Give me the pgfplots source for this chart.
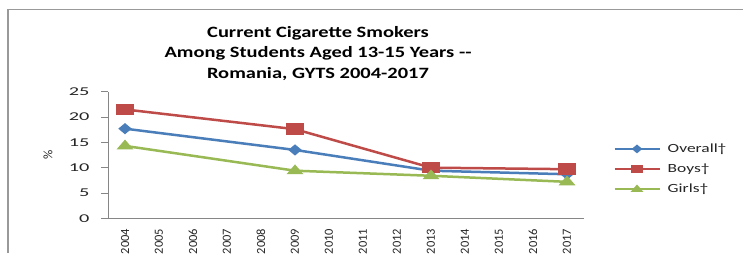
\documentclass[border=0pt]{standalone}
\usepackage{fontspec}
\setmainfont{Carlito}
\newfontfamily\titlefont[FakeStretch=1.3]{Carlito}
\newfontfamily\yfont[FakeStretch=1.7]{Carlito}
\newfontfamily\legfont[FakeStretch=1.4]{Carlito}
\usepackage{pgfplots}
\pgfplotsset{compat=1.18}
\definecolor{cblue}{HTML}{4A7EBB}
\definecolor{cred}{HTML}{BE4B48}
\definecolor{cgreen}{HTML}{98B954}
\definecolor{axgray}{HTML}{868686}
\definecolor{txt}{HTML}{262626}
\begin{document}
\begin{tikzpicture}[x=1bp,y=1bp]
\useasboundingbox (0,0) rectangle (743,-253);
\fill[white] (0,0) rectangle (743,-253);
\draw[gray!80, line width=1.6bp] (8,-253) -- (8,-9.5) -- (743,-9.5);
\node[font=\titlefont\bfseries\fontsize{15.8}{20.5}\selectfont, align=center, anchor=north, text=black, inner sep=0pt] at (318,-26) {Current Cigarette Smokers\\Among Students Aged 13-15 Years --\\Romania, GYTS 2004-2017};
\begin{axis}[
  at={(108bp,-218.3bp)}, anchor=south west,
  scale only axis, width=476bp, height=126.6bp,
  xmin=2003.5, xmax=2017.5, ymin=0, ymax=25,
  axis x line=bottom, axis y line=left,
  axis line style={axgray, line width=1bp, -},
  tick align=outside,
  major tick length=7bp, minor tick length=4bp,
  every tick/.style={axgray, line width=0.8bp},
  ytick={0,5,...,25},
  yticklabels={0,5,10,15,20,25},
  xtick={2004,...,2017},
  xticklabels={2004,2005,2006,2007,2008,2009,2010,2011,2012,2013,2014,2015,2016,2017},
  minor xtick={2003.5,2004.5,...,2017.5},
  x tick style={draw=none},
  minor x tick style={axgray, line width=0.8bp},
  yticklabel style={font=\yfont\fontsize{12}{14}\selectfont, text=txt, xshift=-8bp},
  xticklabel style={font=\fontsize{12.5}{14}\selectfont, text=txt, rotate=90, anchor=east},
  ylabel={\%},
  ylabel style={at={(axis description cs:-0.126,0.5)}, anchor=center, font=\fontsize{13}{15}\selectfont, text=txt},
  legend style={at={(axis description cs:1.061,0.389)}, anchor=west, draw=none, fill=none, inner sep=0pt, row sep=6bp, font=\legfont\fontsize{12.5}{14}\selectfont, text=txt},
  legend cell align=left,
  legend image code/.code={\draw[#1,mark=none] (0bp,0bp) -- (45bp,0bp); \path[#1] plot coordinates {(22.5bp,0bp)};},
  legend image post style={mark size=2.8},
]
\addplot[cblue, line width=2.5bp, mark=diamond*, mark size=4, mark options={xscale=1.6}] coordinates {(2004,17.7)(2009,13.5)(2013,9.4)(2017,8.7)};
\addlegendentry{\hspace{5bp}Overall\textdagger}
\addplot[cred, line width=2.5bp, mark=square*, mark size=4.5, mark options={xscale=1.7}] coordinates {(2004,21.5)(2009,17.6)(2013,10.0)(2017,9.7)};
\addlegendentry{\hspace{5bp}Boys\textdagger}
\addplot[cgreen, line width=2.5bp, mark=triangle*, mark size=4.4, mark options={xscale=1.5}] coordinates {(2004,14.3)(2009,9.4)(2013,8.4)(2017,7.2)};
\addlegendentry{\hspace{5bp}Girls\textdagger}
\end{axis}
\end{tikzpicture}
\end{document}
